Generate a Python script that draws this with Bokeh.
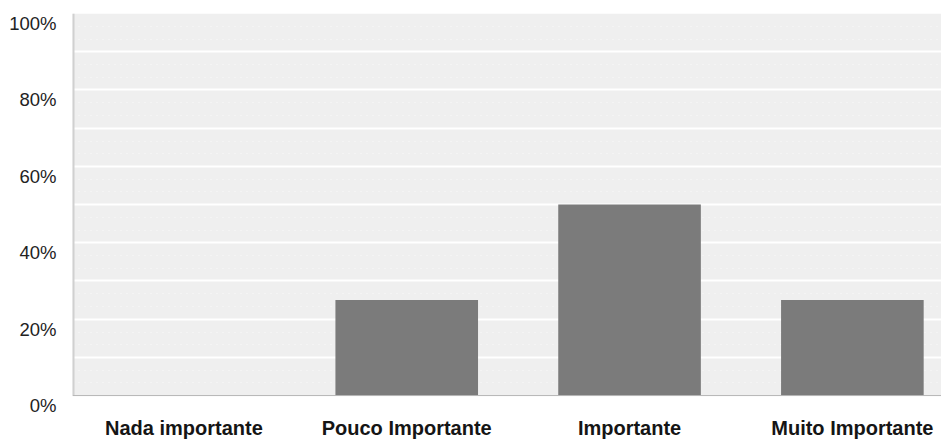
import numpy as np
from bokeh.plotting import figure
from bokeh.models import Range1d, FixedTicker, ColumnDataSource, BoxAnnotation, Span
from bokeh.embed import file_html
from bokeh.resources import INLINE

categories = ["Nada importante", "Pouco Importante", "Importante", "Muito Importante"]
values = [0, 25, 50, 25]
y_tick_values = [0, 20, 40, 60, 80, 100]
y_tick_labels = ["0%", "20%", "40%", "60%", "80%", "100%"]
grid_values = [10, 20, 30, 40, 50, 60, 70, 80, 90]

positions = np.arange(len(categories)) + 0.5
source = ColumnDataSource(dict(x=positions, top=values, cat=categories))

label_shift = 2.6          # labels sit a little below their gridlines
x_start, x_end = 0, 3.9
y_min, y_max = 0, 100

p = figure(
    output_backend="svg", toolbar_location=None,
    frame_width=869, frame_height=392,
    min_border_left=72, min_border_right=0, min_border_top=13, min_border_bottom=25,
    x_range=Range1d(x_start, x_end), y_range=Range1d(y_min - label_shift, y_max),
)
p.outline_line_color = None
p.background_fill_color = "white"
p.border_fill_color = "white"

# grey plotting area above zero
p.add_layout(BoxAnnotation(bottom=y_min, fill_color="#efefef", fill_alpha=1,
                           line_color=None, level="image"))

p.vbar(x="x", top="top", width=0.64, bottom=0, source=source,
       fill_color="#7b7b7b", line_color=None)

# axis lines
p.add_layout(Span(location=y_min, dimension="width", line_color="#b5b5b5", line_width=1))
p.segment(x0=[x_start], y0=[y_min], x1=[x_start], y1=[y_max], line_color="#d0d0d0", line_width=4)

# x axis
p.xaxis.ticker = FixedTicker(ticks=list(positions))
p.xaxis.major_label_overrides = {float(x): c for x, c in zip(positions, categories)}
p.xaxis.major_tick_line_color = None
p.xaxis.minor_tick_line_color = None
p.xaxis.axis_line_color = None
p.xaxis.major_label_standoff = 5
p.xaxis.major_label_text_font = "Liberation Sans"
p.xaxis.major_label_text_font_size = "20px"
p.xaxis.major_label_text_font_style = "bold"
p.xaxis.major_label_text_color = "#151515"

# y axis
shifted = [v - label_shift for v in y_tick_values]
p.yaxis.ticker = FixedTicker(ticks=shifted)
p.yaxis.major_label_overrides = {s: l for s, l in zip(shifted, y_tick_labels)}
p.yaxis.major_tick_line_color = None
p.yaxis.minor_tick_line_color = None
p.yaxis.axis_line_color = None
p.yaxis.major_label_standoff = 10
p.yaxis.major_label_text_font = "Liberation Sans"
p.yaxis.major_label_text_font_size = "18.5px"
p.yaxis.major_label_text_color = "#222222"

# grid
p.xgrid.grid_line_color = None
p.ygrid.ticker = FixedTicker(ticks=grid_values,
                             minor_ticks=[3.3 + 10 * i for i in range(10)] + [6.6 + 10 * i for i in range(10)])
p.ygrid.grid_line_color = "white"
p.ygrid.grid_line_width = 2
p.ygrid.minor_grid_line_color = "white"
p.ygrid.minor_grid_line_alpha = 0.6
p.ygrid.minor_grid_line_dash = "1 5"
p.ygrid.minor_grid_line_width = 1
p.ygrid.level = "underlay"

open("out.html", "w").write(file_html(p, INLINE))
